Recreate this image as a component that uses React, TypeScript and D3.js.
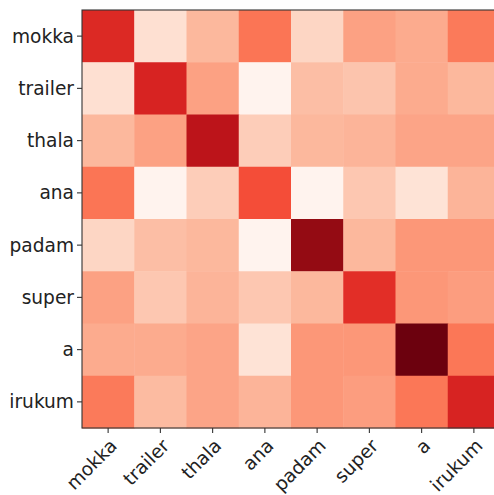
import React from "react";
import * as d3 from "d3";

const words = ["mokka", "trailer", "thala", "ana", "padam", "super", "a", "irukum"];

const rowMokka = [0.69, 0.125, 0.26, 0.465, 0.16, 0.33, 0.30, 0.45];
const rowTrailer = [0.125, 0.71, 0.33, 0.01, 0.24, 0.22, 0.30, 0.26];
const rowThala = [0.26, 0.33, 0.80, 0.19, 0.26, 0.27, 0.32, 0.32];
const rowAna = [0.465, 0.01, 0.19, 0.577, 0.01, 0.21, 0.11, 0.27];
const rowPadam = [0.16, 0.24, 0.26, 0.01, 0.91, 0.26, 0.36, 0.36];
const rowSuper = [0.33, 0.21, 0.27, 0.21, 0.26, 0.67, 0.36, 0.34];
const rowA = [0.30, 0.30, 0.32, 0.11, 0.36, 0.36, 0.99, 0.46];
const rowIrukum = [0.45, 0.25, 0.32, 0.27, 0.36, 0.34, 0.46, 0.71];

const matrix = [rowMokka, rowTrailer, rowThala, rowAna, rowPadam, rowSuper, rowA, rowIrukum];

const redsStops = ["#fff5f0", "#fee0d2", "#fcbba1", "#fc9272", "#fb6a4a", "#ef3b2c", "#cb181d", "#a50f15", "#67000d"];

export default function App() {
  const W = 494, H = 495;
  const left = 82, top = 10, right = 500, bottom = 428;
  const x = d3.scaleBand<string>().domain(words).range([left, right]).padding(0);
  const y = d3.scaleBand<string>().domain(words).range([top, bottom]).padding(0);
  const color = d3
    .scaleLinear<string>()
    .domain(redsStops.map((_, i) => i / (redsStops.length - 1)))
    .range(redsStops)
    .interpolate(d3.interpolateRgb)
    .clamp(true);
  const bw = x.bandwidth();
  const bh = y.bandwidth();
  const fontSize = 18.6;
  const textColor = "#222";
  return (
    <svg width={W} height={H} style={{ position: "absolute", left: 0, top: 0 }} fontFamily="DejaVu Sans">
      <rect x={0} y={0} width={W} height={H} fill="#fff" />
      {matrix.map((row, i) =>
        row.map((v, j) => (
          <rect
            key={`${i}-${j}`}
            x={x(words[j])}
            y={y(words[i])}
            width={bw + 0.5}
            height={bh + 0.5}
            fill={color(v)}
          />
        ))
      )}
      <rect x={left} y={top} width={right - left} height={bottom - top} fill="none" stroke="#333" strokeWidth={1.1} />
      {words.map((w) => {
        const cy = (y(w) as number) + bh / 2;
        return (
          <g key={"y" + w}>
            <line x1={left - 5} x2={left} y1={cy} y2={cy} stroke="#333" strokeWidth={1.1} />
            <text x={left - 8} y={cy} textAnchor="end" dominantBaseline="central" fontSize={fontSize} fill={textColor}>
              {w}
            </text>
          </g>
        );
      })}
      {words.map((w) => {
        const cx = (x(w) as number) + bw / 2;
        return (
          <g key={"x" + w}>
            <line x1={cx} x2={cx} y1={bottom} y2={bottom + 5} stroke="#333" strokeWidth={1.1} />
            <text
              transform={`translate(${cx},${bottom + 9}) rotate(-45)`}
              textAnchor="end"
              dy="0.76em"
              fontSize={fontSize}
              fill={textColor}
            >
              {w}
            </text>
          </g>
        );
      })}
    </svg>
  );
}
